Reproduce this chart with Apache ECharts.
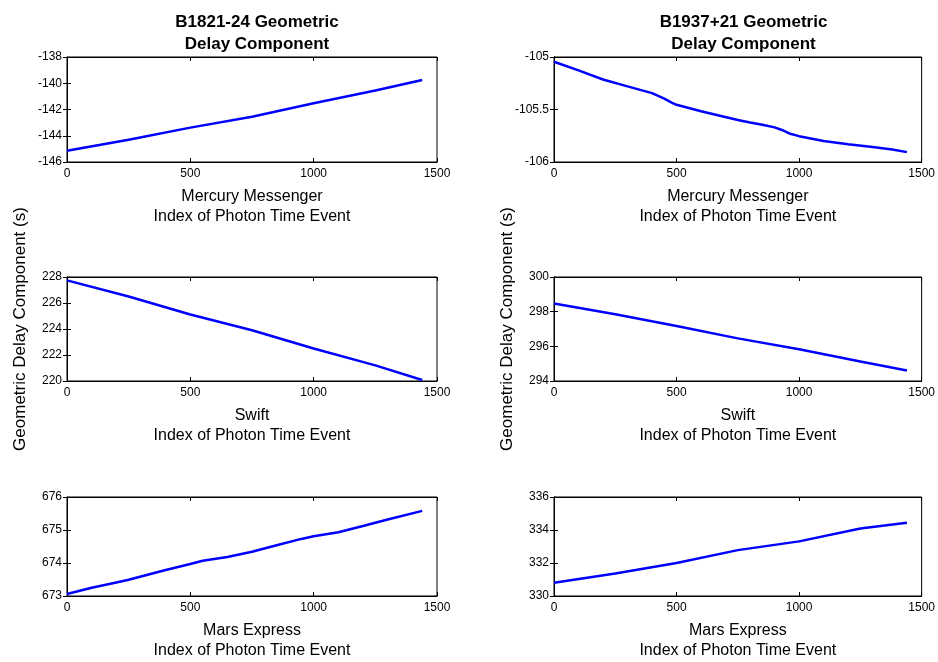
<!DOCTYPE html>
<html>
<head>
<meta charset="utf-8">
<script src="https://cdn.jsdelivr.net/npm/echarts@6/dist/echarts.min.js"></script>
<style>
  html, body { margin: 0; padding: 0; background: #fff; }
  #chart { width: 938px; height: 662px; }
</style>
</head>
<body>
<div id="chart"></div>
<script>
// Pulsar titles (columns) and spacecraft (rows)
const pulsars = ['B1821-24 Geometric\nDelay Component', 'B1937+21 Geometric\nDelay Component'];
const spacecraft = ['Mercury Messenger', 'Swift', 'Mars Express'];
const xLabel = 'Index of Photon Time Event';
const yLabel = 'Geometric Delay Component (s)';

// Y-axis ranges per panel: [min, max, interval]
const yRanges = [
  [-146, -138, 2], [-106, -105, 0.5],
  [220, 228, 2],   [294, 300, 2],
  [673, 676, 1],   [330, 336, 2]
];

// Photon event index and geometric delay (s) for each panel
const b1821MercIdx = [0, 250, 500, 750, 1000, 1250, 1440];
const b1821MercVal = [-145.15, -144.31, -143.38, -142.55, -141.53, -140.55, -139.75];

const b1937MercIdx = [0, 100, 200, 300, 400, 450, 480, 500, 600, 750, 800, 850, 900, 930, 960, 1000, 1100, 1200, 1300, 1380, 1440];
const b1937MercVal = [-105.045, -105.127, -105.214, -105.28, -105.344, -105.396, -105.435, -105.455, -105.517, -105.6, -105.624, -105.646, -105.67, -105.695, -105.728, -105.754, -105.8, -105.83, -105.858, -105.88, -105.906];

const b1821SwiftIdx = [0, 250, 500, 750, 1000, 1250, 1440];
const b1821SwiftVal = [227.74, 226.5, 225.11, 223.9, 222.5, 221.2, 220.08];

const b1937SwiftIdx = [0, 250, 500, 750, 1000, 1250, 1440];
const b1937SwiftVal = [298.47, 297.85, 297.17, 296.46, 295.83, 295.12, 294.6];

const b1821MarsIdx = [0, 100, 200, 250, 300, 400, 500, 550, 650, 750, 850, 950, 1000, 1100, 1200, 1300, 1440];
const b1821MarsVal = [673.06, 673.25, 673.41, 673.49, 673.59, 673.79, 673.97, 674.07, 674.18, 674.34, 674.54, 674.73, 674.81, 674.93, 675.12, 675.32, 675.58];

const b1937MarsIdx = [0, 250, 500, 750, 1000, 1250, 1440];
const b1937MarsVal = [330.8, 331.36, 332.0, 332.78, 333.31, 334.09, 334.44];

const panels = [
  [b1821MercIdx, b1821MercVal], [b1937MercIdx, b1937MercVal],
  [b1821SwiftIdx, b1821SwiftVal], [b1937SwiftIdx, b1937SwiftVal],
  [b1821MarsIdx, b1821MarsVal], [b1937MarsIdx, b1937MarsVal]
];

const FONT = 'Liberation Sans, Arial, Helvetica, sans-serif';
const colLeft = [67, 554];
const colWidth = [370, 369];
const rowTop = [57, 277, 497];
const rowHeight = [105, 104, 103];

// plain numbers, no thousands separators
const plain = v => String(v);

const grids = [], xAxes = [], yAxes = [], series = [];
panels.forEach((p, i) => {
  const row = Math.floor(i / 2), col = i % 2;
  grids.push({
    left: colLeft[col], top: rowTop[row], width: colWidth[col], height: rowHeight[row],
    show: true, borderColor: '#000', borderWidth: 1, backgroundColor: '#fff'
  });
  const tickStyle = { show: true, inside: true, length: 4, lineStyle: { color: '#000', width: 1 } };
  // bottom axis with labels and names
  xAxes.push({
    type: 'value', gridIndex: i, min: 0, max: 1500, interval: 500, position: 'bottom',
    axisLine: { show: true, lineStyle: { color: '#000' } },
    axisTick: tickStyle, splitLine: { show: false },
    axisLabel: { color: '#000', fontFamily: FONT, fontSize: 12, margin: 6, formatter: plain },
    name: spacecraft[row] + '\n' + xLabel, nameLocation: 'middle', nameGap: 25,
    nameTextStyle: { color: '#000', fontFamily: FONT, fontSize: 16, lineHeight: 20, verticalAlign: 'top' }
  });
  // top mirror axis for tick marks only
  xAxes.push({
    type: 'value', gridIndex: i, min: 0, max: 1500, interval: 500, position: 'top',
    axisLine: { show: true, lineStyle: { color: '#000' } },
    axisTick: tickStyle, axisLabel: { show: false }, splitLine: { show: false }
  });
  const yr = yRanges[i];
  yAxes.push({
    type: 'value', gridIndex: i, min: yr[0], max: yr[1], interval: yr[2], position: 'left',
    axisLine: { show: true, lineStyle: { color: '#000' } },
    axisTick: tickStyle, splitLine: { show: false },
    axisLabel: { color: '#000', fontFamily: FONT, fontSize: 12, margin: 5, formatter: plain },
    name: row === 1 ? yLabel : '', nameLocation: 'middle', nameGap: 38,
    nameTextStyle: { color: '#000', fontFamily: FONT, fontSize: 17 }
  });
  yAxes.push({
    type: 'value', gridIndex: i, min: yr[0], max: yr[1], interval: yr[2], position: 'right',
    axisLine: { show: true, lineStyle: { color: '#000' } },
    axisTick: tickStyle, axisLabel: { show: false }, splitLine: { show: false }
  });
  series.push({
    type: 'line', xAxisIndex: 2 * i, yAxisIndex: 2 * i,
    data: p[0].map((x, k) => [x, p[1][k]]),
    showSymbol: false, smooth: false, animation: false,
    lineStyle: { color: '#0000ff', width: 2.5 }
  });
});

const chart = echarts.init(document.getElementById('chart'), null, { renderer: 'canvas' });
chart.setOption({
  backgroundColor: '#fff',
  animation: false,
  title: pulsars.map((t, c) => ({
    text: t, left: colLeft[c] + colWidth[c] / 2, top: 6, textAlign: 'center',
    textStyle: { color: '#000', fontFamily: FONT, fontSize: 17, fontWeight: 'bold', lineHeight: 22 }
  })),
  grid: grids, xAxis: xAxes, yAxis: yAxes, series: series
});
</script>
</body>
</html>
